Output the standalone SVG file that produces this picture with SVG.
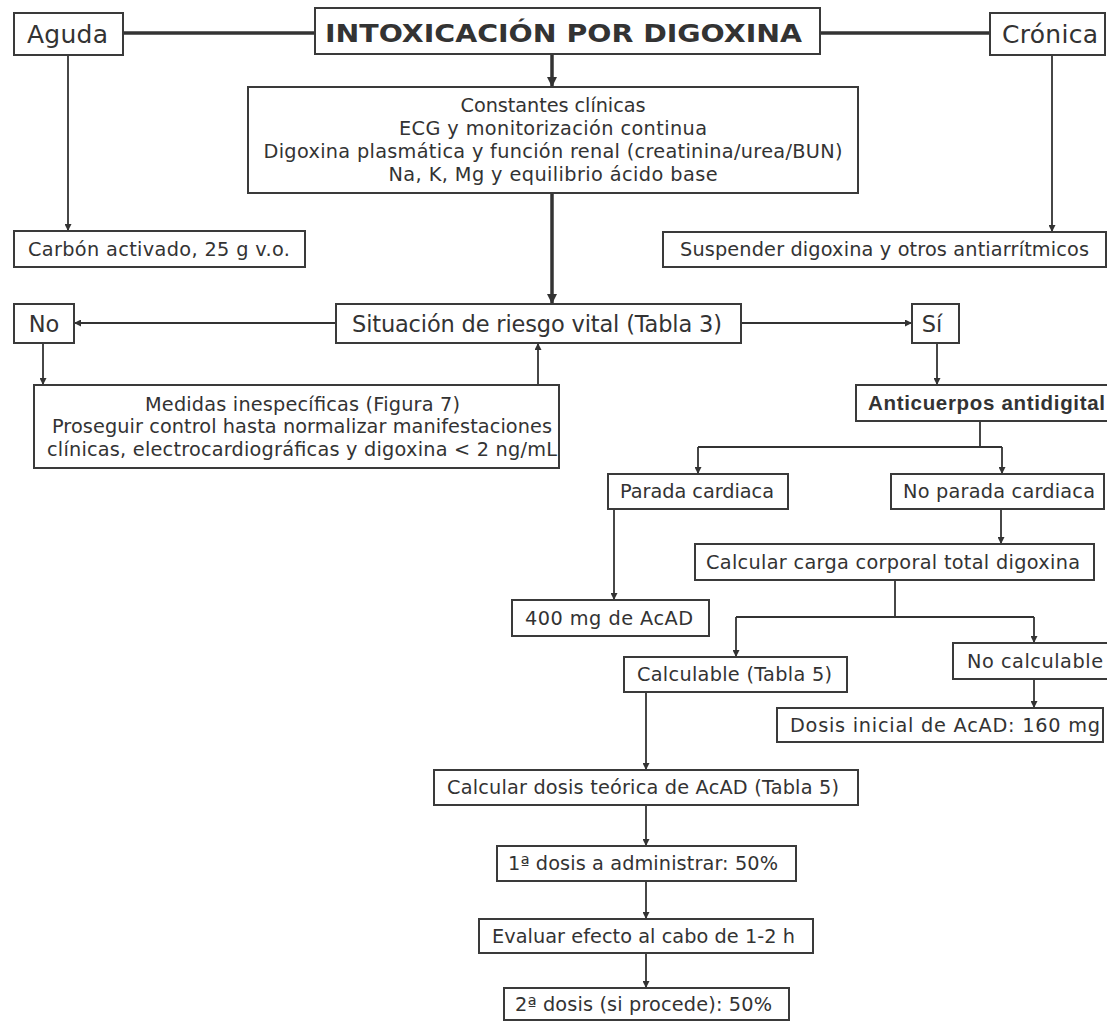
<svg xmlns="http://www.w3.org/2000/svg" width="1107" height="1022" viewBox="0 0 1107 1022">
<defs>
<style>
.box{fill:#fff;stroke:#3a3a3a;stroke-width:2}
.t{font-family:"DejaVu Sans","Liberation Sans",sans-serif;font-size:19.3px;fill:#333;text-anchor:middle}
.big{font-size:22.5px}
.top{font-size:25px}
.title{font-family:"DejaVu Sans","Liberation Sans",sans-serif;font-weight:bold;font-size:25px;fill:#333;text-anchor:middle}
.bold{font-family:"Liberation Sans","DejaVu Sans",sans-serif;font-weight:bold;font-size:20.5px;fill:#333}
.c{fill:none;stroke:#333;stroke-width:1.8}
.ck{fill:none;stroke:#333;stroke-width:3.5}
</style>
<marker id="a" viewBox="0 0 10 10" refX="10" refY="5" markerWidth="8" markerHeight="7" markerUnits="userSpaceOnUse" orient="auto"><path d="M0,0 L10,5 L0,10 z" fill="#333"/></marker>
<marker id="ab" viewBox="0 0 10 10" refX="10" refY="5" markerWidth="11" markerHeight="10" markerUnits="userSpaceOnUse" orient="auto"><path d="M0,0 L10,5 L0,10 z" fill="#333"/></marker>
</defs>
<rect width="1107" height="1022" fill="#fff"/>
<g id="connectors">
<path class="ck" d="M123,33 H315"/>
<path class="ck" d="M820,33 H990"/>
<path class="ck" d="M552,54 V87" marker-end="url(#ab)"/>
<path class="c" d="M68,55 V231" marker-end="url(#a)"/>
<path class="c" d="M1052,55 V232" marker-end="url(#a)"/>
<path class="ck" d="M552,193 V304" marker-end="url(#ab)"/>
<path class="c" d="M336,323 H74" marker-end="url(#a)"/>
<path class="c" d="M741,323 H912" marker-end="url(#a)"/>
<path class="c" d="M43,343 V385" marker-end="url(#a)"/>
<path class="c" d="M538,385 V343" marker-end="url(#a)"/>
<path class="c" d="M937,343 V385" marker-end="url(#a)"/>
<path class="c" d="M980,421 V447"/>
<path class="c" d="M698,447 H1002"/>
<path class="c" d="M698,447 V474" marker-end="url(#a)"/>
<path class="c" d="M1002,447 V474" marker-end="url(#a)"/>
<path class="c" d="M1001,509 V544" marker-end="url(#a)"/>
<path class="c" d="M614,509 V600" marker-end="url(#a)"/>
<path class="c" d="M895,580 V617"/>
<path class="c" d="M736,617 H1034"/>
<path class="c" d="M736,617 V657" marker-end="url(#a)"/>
<path class="c" d="M1034,617 V643" marker-end="url(#a)"/>
<path class="c" d="M1034,679 V708" marker-end="url(#a)"/>
<path class="c" d="M646,692 V770" marker-end="url(#a)"/>
<path class="c" d="M646,805 V846" marker-end="url(#a)"/>
<path class="c" d="M646,881 V919" marker-end="url(#a)"/>
<path class="c" d="M646,953 V988" marker-end="url(#a)"/>
</g>
<g id="aguda"><rect class="box" x="14" y="13" width="109" height="42"/><text class="t top" x="67.5" y="43" textLength="81" lengthAdjust="spacing">Aguda</text></g>
<g id="titulo"><rect class="box" x="315" y="8" width="505" height="46"/><text class="title" x="563.5" y="42" textLength="477" lengthAdjust="spacingAndGlyphs">INTOXICACIÓN POR DIGOXINA</text></g>
<g id="cronica"><rect class="box" x="990" y="13" width="115" height="42"/><text class="t top" x="1050" y="43" textLength="96" lengthAdjust="spacing">Crónica</text></g>
<g id="constantes"><rect class="box" x="248" y="87" width="610" height="106"/>
<text class="t" x="553" y="112" textLength="185" lengthAdjust="spacing">Constantes clínicas</text>
<text class="t" x="553" y="135" textLength="308" lengthAdjust="spacing">ECG y monitorización continua</text>
<text class="t" x="553" y="158" textLength="579" lengthAdjust="spacing">Digoxina plasmática y función renal (creatinina/urea/BUN)</text>
<text class="t" x="553" y="181" textLength="329" lengthAdjust="spacing">Na, K, Mg y equilibrio ácido base</text></g>
<g id="carbon"><rect class="box" x="14" y="231" width="291" height="36"/><text class="t" x="159" y="256" textLength="262" lengthAdjust="spacing">Carbón activado, 25 g v.o.</text></g>
<g id="suspender"><rect class="box" x="663" y="232" width="443" height="35"/><text class="t" x="884.5" y="256" textLength="409" lengthAdjust="spacing">Suspender digoxina y otros antiarrítmicos</text></g>
<g id="no"><rect class="box" x="14" y="304" width="60" height="39"/><text class="t big" x="44" y="332">No</text></g>
<g id="situacion"><rect class="box" x="336" y="304" width="405" height="39"/><text class="t big" x="537" y="332" textLength="370" lengthAdjust="spacing">Situación de riesgo vital (Tabla 3)</text></g>
<g id="si"><rect class="box" x="912" y="304" width="47" height="39"/><text class="t big" x="932" y="332">Sí</text></g>
<g id="medidas"><rect class="box" x="34" y="385" width="525" height="83"/>
<text class="t" x="302.5" y="410.5" textLength="315" lengthAdjust="spacing">Medidas inespecíficas (Figura 7)</text>
<text class="t" x="302" y="433" textLength="500" lengthAdjust="spacing">Proseguir control hasta normalizar manifestaciones</text>
<text class="t" x="302" y="455.5" textLength="510" lengthAdjust="spacing">clínicas, electrocardiográficas y digoxina &lt; 2 ng/mL</text></g>
<g id="anticuerpos"><rect class="box" x="856" y="385" width="260" height="36"/><text class="bold" x="868" y="410" textLength="237" lengthAdjust="spacing">Anticuerpos antidigital</text></g>
<g id="parada"><rect class="box" x="608" y="474" width="180" height="35"/><text class="t" x="697" y="498" textLength="154" lengthAdjust="spacing">Parada cardiaca</text></g>
<g id="noparada"><rect class="box" x="891" y="474" width="213" height="35"/><text class="t" x="999" y="498" textLength="192" lengthAdjust="spacing">No parada cardiaca</text></g>
<g id="carga"><rect class="box" x="695" y="544" width="399" height="36"/><text class="t" x="893" y="569" textLength="374" lengthAdjust="spacing">Calcular carga corporal total digoxina</text></g>
<g id="d400"><rect class="box" x="512" y="600" width="197" height="36"/><text class="t" x="609" y="625" textLength="168" lengthAdjust="spacing">400 mg de AcAD</text></g>
<g id="calculable"><rect class="box" x="624" y="657" width="223" height="35"/><text class="t" x="734.5" y="681" textLength="195" lengthAdjust="spacing">Calculable (Tabla 5)</text></g>
<g id="nocalculable"><rect class="box" x="953" y="643" width="160" height="36"/><text class="t" x="1035" y="668" textLength="136" lengthAdjust="spacing">No calculable</text></g>
<g id="dosisinicial"><rect class="box" x="777" y="708" width="326" height="34"/><text class="t" x="945" y="732" textLength="310" lengthAdjust="spacing">Dosis inicial de AcAD: 160 mg</text></g>
<g id="dosisteorica"><rect class="box" x="434" y="770" width="424" height="35"/><text class="t" x="643" y="794" textLength="392" lengthAdjust="spacing">Calcular dosis teórica de AcAD (Tabla 5)</text></g>
<g id="dosis1"><rect class="box" x="497" y="846" width="299" height="35"/><text class="t" x="643" y="870" textLength="270" lengthAdjust="spacing">1ª dosis a administrar: 50%</text></g>
<g id="evaluar"><rect class="box" x="479" y="919" width="334" height="34"/><text class="t" x="643.5" y="943" textLength="303" lengthAdjust="spacing">Evaluar efecto al cabo de 1-2 h</text></g>
<g id="dosis2"><rect class="box" x="504" y="988" width="285" height="32"/><text class="t" x="643.5" y="1011" textLength="257" lengthAdjust="spacing">2ª dosis (si procede): 50%</text></g>
</svg>
